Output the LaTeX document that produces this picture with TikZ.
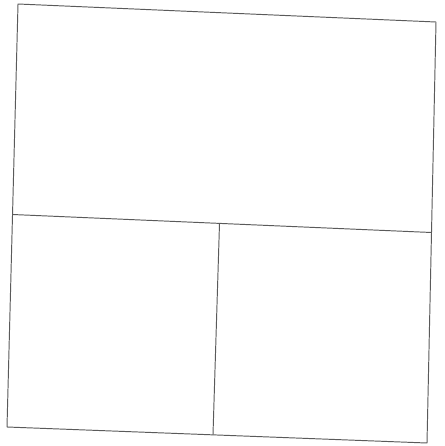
\documentclass[tikz,border=0pt]{standalone}
\usepackage{tikz}
\usetikzlibrary{calc}
\definecolor{LineA}{HTML}{5A5A5A}
\tikzset{
  edge/.style={draw=LineA, line width=0.55pt, line cap=round, line join=round}
}
\begin{document}
\begin{tikzpicture}[x=0.02cm, y=-0.02cm]
  \useasboundingbox (0,0) rectangle (445,446);
  \coordinate (tl) at (18,4);
  \coordinate (tr) at (436,22);
  \coordinate (br) at (427,443);
  \coordinate (bl) at (7,427);
  \coordinate (ml) at (12.5,214.5);
  \coordinate (mr) at (431.5,232.5);
  \coordinate (vt) at (219.5,223.5);
  \coordinate (vb) at (213,434.5);
  \draw[edge] (tl) -- (tr) -- (br) -- (bl) -- cycle;
  \draw[edge] (ml) -- (mr);
  \draw[edge] (vt) -- (vb);
\end{tikzpicture}
\end{document}
